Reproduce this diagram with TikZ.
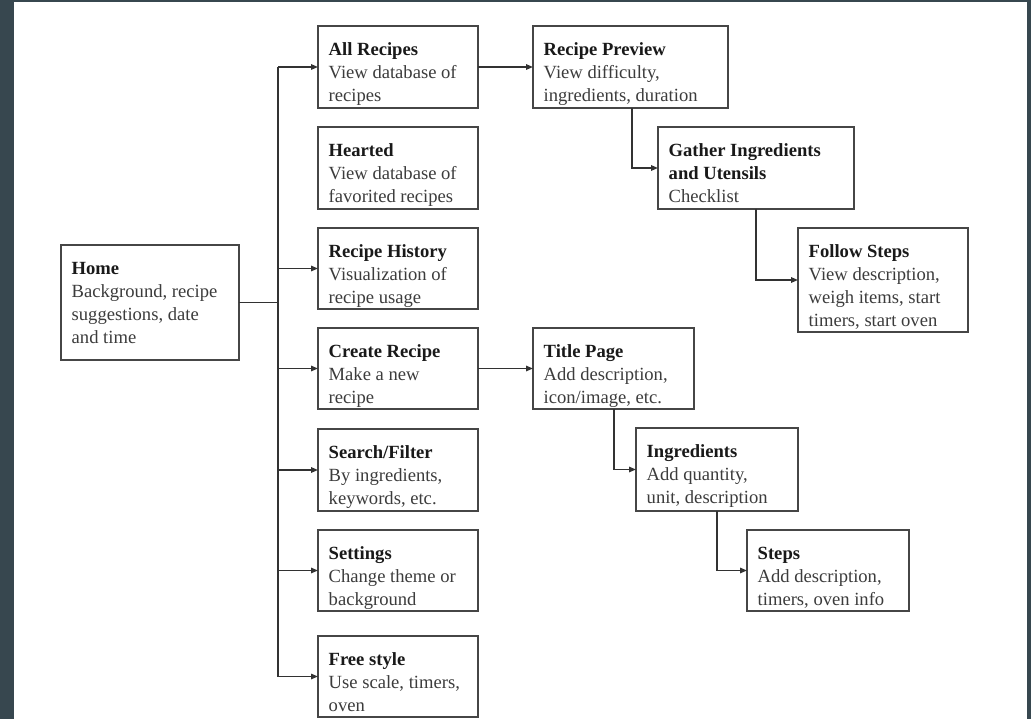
\documentclass[tikz,border=0pt]{standalone}
\usepackage{fontspec}
\setmainfont{Liberation Serif}
\usetikzlibrary{arrows.meta,calc}
\definecolor{frame}{RGB}{55,71,79}
\definecolor{boxline}{RGB}{70,70,70}
\definecolor{lineblack}{RGB}{50,50,50}
\definecolor{txtgray}{RGB}{60,60,60}
\definecolor{txtbold}{RGB}{25,25,25}
\newcommand{\hd}[1]{\textbf{\color{txtbold}#1}}
\newcommand{\rbox}[6]{%
  \node[box, anchor=north west, minimum width={(#4-#2)*1pt}, minimum height={(#5-#3)*1pt}] (#1) at (#2,#3) {};
  \node[txt] (#1-t) at ($(#1.north west)+(10.5,13)$) {#6};}
\begin{document}
\begin{tikzpicture}[x=1pt,y=-1pt,
  box/.style={draw=boxline, line width=1.4pt, rectangle, inner sep=0pt, outer sep=0pt},
  txt/.style={anchor=north west, inner sep=0pt, align=left, font=\fontsize{18.6}{23}\selectfont, text=txtgray},
  link/.style={draw=lineblack, line width=1.4pt},
  arr/.style={link, -{Triangle[length=7pt,width=5.5pt]}}]
\fill[frame] (0,0) rectangle (1031,719);
\fill[white] (14,2) rectangle (1027,719);
\useasboundingbox (0,0) rectangle (1031,719);

\rbox{home}{61}{245}{239}{360}{\strut\hd{Home}\\Background, recipe\\suggestions, date\\and time}
\rbox{all}{318}{26}{478}{108}{\strut\hd{All Recipes}\\View database of\\recipes}
\rbox{heart}{318}{127}{478}{209}{\strut\hd{Hearted}\\View database of\\favorited recipes}
\rbox{hist}{318}{228}{478}{309}{\strut\hd{Recipe History}\\Visualization of\\recipe usage}
\rbox{create}{318}{328}{478}{409}{\strut\hd{Create Recipe}\\Make a new\\recipe}
\rbox{search}{318}{429}{478}{511}{\strut\hd{Search/Filter}\\By ingredients,\\keywords, etc.}
\rbox{settings}{318}{530}{478}{611}{\strut\hd{Settings}\\Change theme or\\background}
\rbox{free}{318}{636}{478}{717}{\strut\hd{Free style}\\Use scale, timers,\\oven}
\rbox{preview}{533}{26}{728}{108}{\strut\hd{Recipe Preview}\\View difficulty,\\ingredients, duration}
\rbox{gather}{658}{127}{854}{209}{\strut\hd{Gather Ingredients}\\\hd{and Utensils}\\Checklist}
\rbox{follow}{798}{228}{968}{332}{\strut\hd{Follow Steps}\\View description,\\weigh items, start\\timers, start oven}
\rbox{title}{533}{328}{694}{409}{\strut\hd{Title Page}\\Add description,\\icon/image, etc.}
\rbox{ingr}{636}{428}{798}{511}{\strut\hd{Ingredients}\\Add quantity,\\unit, description}
\rbox{steps}{747}{530}{909}{611}{\strut\hd{Steps}\\Add description,\\timers, oven info}

\coordinate (tx) at (278,0);
\coordinate (trunk) at (home.east -| tx);
\draw[link] (home.east) -- (trunk);
\draw[link] (trunk |- all.west) -- (trunk |- free.west);
\foreach \n in {all,hist,create,search,settings,free}
  \draw[arr] (trunk |- \n.west) -- (\n.west);
\draw[arr] (all.east) -- (preview.west);
\draw[arr] ([xshift=99pt]preview.south west) |- (gather.west);
\draw[arr] ([xshift=98pt]gather.south west) |- (follow.west);
\draw[arr] (create.east) -- (title.west);
\draw[arr] ([xshift=81pt]title.south west) |- (ingr.west);
\draw[arr] ([xshift=81pt]ingr.south west) |- (steps.west);
\end{tikzpicture}
\end{document}
